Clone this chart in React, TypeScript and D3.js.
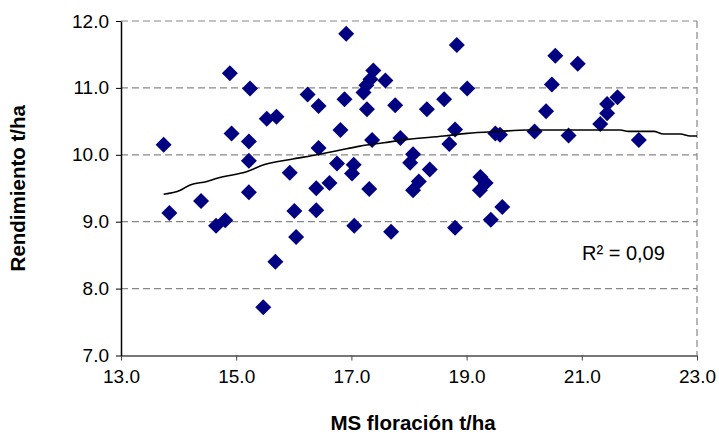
import React, { useEffect, useRef } from 'react';
import * as d3 from 'd3';

// scatter points (MS floración, Rendimiento)
const msFloracion = [
  13.74, 13.84, 14.39, 14.65, 14.81, 14.89, 14.92, 15.22, 15.22, 15.22, 15.24, 15.47,
  15.53, 15.68, 15.70, 15.93, 16.01, 16.04, 16.24, 16.39, 16.39, 16.43, 16.43, 16.62,
  16.75, 16.81, 16.88, 16.91, 17.01, 17.04, 17.05, 17.21, 17.26, 17.27, 17.31, 17.33,
  17.36, 17.38, 17.59, 17.69, 17.76, 17.85, 18.02, 18.07, 18.07, 18.17, 18.31, 18.36,
  18.61, 18.70, 18.80, 18.80, 18.83, 19.01, 19.24, 19.33, 19.23, 19.42, 19.50, 19.58,
  19.62, 20.18, 20.38, 20.48, 20.54, 20.77, 20.93, 21.32, 21.44, 21.44, 21.62, 21.99
];
const rendimiento = [
  10.15, 9.13, 9.31, 8.94, 9.02, 11.22, 10.32, 10.20, 9.91, 9.44, 10.99, 7.72,
  10.54, 8.40, 10.57, 9.73, 9.16, 8.77, 10.90, 9.50, 9.17, 10.73, 10.10, 9.58,
  9.87, 10.37, 10.83, 11.81, 9.72, 9.85, 8.94, 10.93, 11.04, 10.68, 9.49, 11.13,
  10.22, 11.26, 11.11, 8.85, 10.74, 10.25, 9.88, 10.01, 9.47, 9.60, 10.68, 9.78,
  10.83, 10.16, 10.38, 8.91, 11.64, 10.99, 9.67, 9.58, 9.47, 9.03, 10.32, 10.30,
  9.22, 10.35, 10.65, 11.05, 11.48, 10.29, 11.36, 10.46, 10.62, 10.76, 10.86, 10.22
];

// trend line
const trendX = [13.74, 14.03, 14.2, 14.49, 14.67, 15.19, 15.48, 15.94, 16.4, 16.75, 17.15, 17.56,
  17.97, 18.6, 19.01, 19.58, 20.05, 21.67, 21.81, 22.25, 22.42, 22.71, 22.88, 23.0];
const trendY = [9.41, 9.47, 9.55, 9.6, 9.65, 9.75, 9.85, 9.93, 10.0, 10.06, 10.13, 10.18,
  10.23, 10.28, 10.32, 10.35, 10.37, 10.37, 10.35, 10.35, 10.31, 10.31, 10.28, 10.28];

const xTicks = [13, 15, 17, 19, 21, 23];
const yTicks = [7, 8, 9, 10, 11, 12];
const r2Label = 'R² = 0,09';

const App = () => {
  const ref = useRef<SVGSVGElement>(null);

  useEffect(() => {
    const svg = d3.select(ref.current);
    svg.selectAll('*').remove();

    const font = '"Liberation Sans", Arial, sans-serif';
    const x = d3.scaleLinear().domain([13, 23]).range([121, 697]);
    const y = d3.scaleLinear().domain([7, 12]).range([355.5, 21]);

    // gridlines
    svg.append('g').selectAll('line')
      .data(yTicks.filter(d => d > 7))
      .enter().append('line')
      .attr('x1', x(13)).attr('x2', x(23))
      .attr('y1', d => y(d)).attr('y2', d => y(d))
      .attr('stroke', '#888').attr('stroke-width', 1.2)
      .attr('stroke-dasharray', '7,4');

    // right border
    svg.append('line')
      .attr('x1', x(23)).attr('x2', x(23))
      .attr('y1', y(12)).attr('y2', y(7))
      .attr('stroke', '#888').attr('stroke-width', 1.2)
      .attr('stroke-dasharray', '7,4');

    // axes
    const xAxis = d3.axisBottom(x).tickValues(xTicks).tickSize(5).tickSizeOuter(0)
      .tickFormat(d => d3.format('.1f')(d as number));
    const xg = svg.append('g').attr('transform', `translate(0,${y(7)})`).call(xAxis);
    xg.select('.domain').attr('stroke', '#777').attr('stroke-width', 2);
    xg.selectAll('.tick line').attr('stroke', '#444');
    xg.selectAll('.tick text').attr('font-family', font).attr('font-size', 19)
      .attr('fill', '#000').attr('dy', '1.0em');

    const yAxis = d3.axisLeft(y).tickValues(yTicks).tickSize(5).tickSizeOuter(0)
      .tickFormat(d => d3.format('.1f')(d as number));
    const yg = svg.append('g').attr('transform', `translate(${x(13)},0)`).call(yAxis);
    yg.select('.domain').attr('stroke', '#000').attr('stroke-width', 1.5);
    yg.selectAll('.tick line').attr('stroke', '#000');
    yg.selectAll('.tick text').attr('font-family', font).attr('font-size', 19)
      .attr('fill', '#000').attr('x', -12);

    // points
    const pts = msFloracion.map((v, i) => ({ x: v, y: rendimiento[i] }));
    svg.append('g').selectAll('path')
      .data(pts)
      .enter().append('path')
      .attr('d', 'M0,-8L8,0L0,8L-8,0Z')
      .attr('transform', d => `translate(${x(d.x)},${y(d.y)})`)
      .attr('fill', '#000080');

    // trend line
    const trend = trendX.map((v, i) => [v, trendY[i]] as [number, number]);
    const line = d3.line<[number, number]>()
      .x(d => x(d[0])).y(d => y(d[1]))
      .curve(d3.curveMonotoneX);
    svg.append('path')
      .datum(trend)
      .attr('d', line)
      .attr('fill', 'none')
      .attr('stroke', '#000')
      .attr('stroke-width', 1.6);

    // R² label
    svg.append('text')
      .attr('x', 582).attr('y', 260)
      .attr('font-family', font).attr('font-size', 20)
      .text(r2Label);

    // axis titles
    svg.append('text')
      .attr('x', (x(13) + x(23)) / 2 + 4).attr('y', 430)
      .attr('text-anchor', 'middle')
      .attr('font-family', font).attr('font-size', 20.5).attr('font-weight', 'bold')
      .text('MS floración t/ha');

    svg.append('text')
      .attr('transform', `translate(25,${(y(7) + y(12)) / 2}) rotate(-90)`)
      .attr('text-anchor', 'middle')
      .attr('font-family', font).attr('font-size', 20.5).attr('font-weight', 'bold')
      .text('Rendimiento t/ha');
  }, []);

  return (
    <svg ref={ref} width={719} height={433}
      style={{ position: 'absolute', left: 0, top: 0, background: '#fff' }} />
  );
};

export default App;
